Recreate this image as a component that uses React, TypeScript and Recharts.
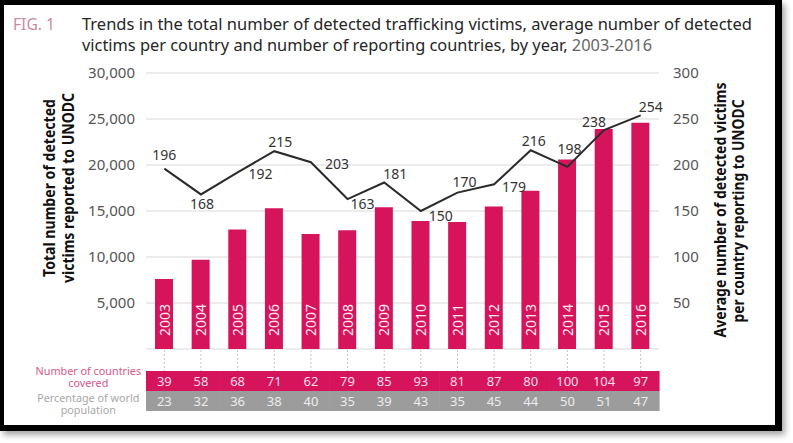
import React from 'react';
import { ComposedChart, Bar, Line, XAxis, YAxis, CartesianGrid, LabelList } from 'recharts';

const years = ['2003', '2004', '2005', '2006', '2007', '2008', '2009', '2010', '2011', '2012', '2013', '2014', '2015', '2016'];
const totalVictims = [7600, 9700, 13000, 15300, 12500, 12900, 15400, 13900, 13800, 15500, 17200, 20600, 23900, 24600];
const avgPerCountry = [196, 168, 192, 215, 203, 163, 181, 150, 170, 179, 216, 198, 238, 254];
const countriesCovered = [39, 58, 68, 71, 62, 79, 85, 93, 81, 87, 80, 100, 104, 97];
const worldPopShare = [23, 32, 36, 38, 40, 35, 39, 43, 35, 45, 44, 50, 51, 47];
const leftTicks = [5000, 10000, 15000, 20000, 25000, 30000];
const rightTicks = [50, 100, 150, 200, 250, 300];

const PINK = '#d5145c';
const GREY_ROW = '#9c9c9c';
const INK = '#333333';
const SANS = "'Noto Sans', sans-serif";

// where each line label sits relative to its point (dx, dy)
const labelNudge: Array<[number, number]> = [
  [0, -14], [1, 9], [23, 1], [6, -10], [26, 1], [15, 4], [11, -9],
  [20, 4], [7, -11], [20, 2], [3, -10], [2, -18], [-10, -9], [10, -9],
];

const data = years.map((year, i) => ({ year, victims: totalVictims[i], avg: avgPerCountry[i] }));

const fmt = (v: number) => v.toLocaleString('en-US');

const YearInBar = (props: any) => {
  const { x, y, width, height, value } = props;
  const cx = x + width / 2;
  const by = y + height - 13;
  return (
    <text x={cx} y={by} transform={`rotate(-90 ${cx} ${by})`} textAnchor="start" dominantBaseline="central"
      fill="#fbe6ee" fontSize={14} fontFamily={SANS}>
      {value}
    </text>
  );
};

const AvgLabel = (props: any) => {
  const { x, y, value, index } = props;
  const [dx, dy] = labelNudge[index] || [0, -10];
  return (
    <text x={x + dx} y={y + dy} textAnchor="middle" dominantBaseline="central" fill={INK} fontSize={14} fontFamily={SANS}>
      {value}
    </text>
  );
};

const TableTick = (props: any) => {
  const { x, y, payload, width, visibleTicksCount } = props;
  const i = payload.index;
  const cell = width / visibleTicksCount;
  const lx = x - 76;
  return (
    <g>
      <line x1={x} x2={x} y1={y + 1} y2={y + 22} stroke="#c4c4c4" strokeDasharray="2 2" />
      <rect x={x - cell / 2} y={y + 22} width={cell + 0.6} height={20} fill={PINK} />
      <rect x={x - cell / 2} y={y + 42} width={cell + 0.6} height={20} fill={GREY_ROW} />
      <text x={x} y={y + 32} textAnchor="middle" dominantBaseline="central" fill="#f9dde7" fontSize={13} fontFamily={SANS}>
        {countriesCovered[i]}
      </text>
      <text x={x} y={y + 52} textAnchor="middle" dominantBaseline="central" fill="#ececec" fontSize={13} fontFamily={SANS}>
        {worldPopShare[i]}
      </text>
      {i === 0 && (
        <g fontFamily={SANS} fontSize={11.5} textAnchor="middle"
          transform={`translate(${lx} 0) scale(0.94 1) translate(${-lx} 0)`}>
          <text x={lx} y={y + 26} fill="#d9568a">
            <tspan x={lx}>Number of countries</tspan>
            <tspan x={lx} dy={12}>covered</tspan>
          </text>
          <text x={lx} y={y + 53} fill="#a8a8a8">
            <tspan x={lx}>Percentage of world</tspan>
            <tspan x={lx} dy={12}>population</tspan>
          </text>
        </g>
      )}
    </g>
  );
};

const RotatedLine = ({ cx, cy, len, children }: any) => (
  <text transform={`rotate(-90 ${cx} ${cy})`} x={cx} y={cy} textAnchor="middle" dominantBaseline="central"
    fill="#111" fontSize={16} fontWeight="bold" fontFamily={SANS} textLength={len} lengthAdjust="spacingAndGlyphs">
    {children}
  </text>
);

const LeftTitle = (props: any) => {
  const { viewBox } = props;
  const cy = viewBox.y + viewBox.height / 2 - 23;
  return (
    <g>
      <RotatedLine cx={viewBox.x + 49} cy={cy} len={178}>Total number of detected</RotatedLine>
      <RotatedLine cx={viewBox.x + 68} cy={cy} len={190}>victims reported to UNODC</RotatedLine>
    </g>
  );
};

const RightTitle = (props: any) => {
  const { viewBox } = props;
  const cy = viewBox.y + viewBox.height / 2 - 1;
  return (
    <g>
      <RotatedLine cx={viewBox.x + 61} cy={cy} len={255}>Average number of detected victims</RotatedLine>
      <RotatedLine cx={viewBox.x + 79} cy={cy + 1} len={223}>per country reporting to UNODC</RotatedLine>
    </g>
  );
};

export default function App() {
  return (
    <div style={{ position: 'absolute', left: 0, top: 0, width: 793, height: 443, background: '#fff', overflow: 'hidden' }}>
      <ComposedChart width={793} height={443} data={data} margin={{ top: 73, right: 0, bottom: 0, left: 0 }}
        barSize={18}>
        <CartesianGrid yAxisId="left" vertical={false} stroke="#d9d9d9" />
        <XAxis dataKey="year" height={94} axisLine={false} tickLine={false} tickSize={0} tickMargin={0}
          interval={0} tick={<TableTick />} />
        <YAxis yAxisId="left" width={146} domain={[0, 30000]} ticks={leftTicks} tickFormatter={fmt}
          axisLine={false} tickLine={false} tickSize={0} tickMargin={11}
          tick={{ fill: '#555', fontSize: 15, fontFamily: SANS }} label={<LeftTitle />} />
        <YAxis yAxisId="right" orientation="right" width={134} domain={[0, 300]} ticks={rightTicks}
          axisLine={false} tickLine={false} tickSize={0} tickMargin={14}
          tick={{ fill: '#555', fontSize: 15, fontFamily: SANS }} label={<RightTitle />} />
        <Bar yAxisId="left" dataKey="victims" fill={PINK} isAnimationActive={false}>
          <LabelList dataKey="year" content={<YearInBar />} />
        </Bar>
        <Line yAxisId="right" dataKey="avg" stroke="#2b2b2b" strokeWidth={2} dot={false} type="linear"
          isAnimationActive={false}>
          <LabelList dataKey="avg" content={<AvgLabel />} />
        </Line>
      </ComposedChart>

      <svg width={793} height={70} style={{ position: 'absolute', left: 0, top: 0, pointerEvents: 'none' }}>
        <text x={13} y={30} fontFamily={SANS} fontSize={15.5} fill="#c98ba1" textLength={42} lengthAdjust="spacingAndGlyphs">
          FIG. 1
        </text>
        <text x={82} y={30} fontFamily={SANS} fontSize={15.5} fill="#262626" textLength={670} lengthAdjust="spacingAndGlyphs">
          Trends in the total number of detected trafficking victims, average number of detected
        </text>
        <text x={82} y={51} fontFamily={SANS} fontSize={15.5} fill="#262626" textLength={570} lengthAdjust="spacingAndGlyphs">
          victims per country and number of reporting countries, by year, <tspan fill="#666">2003-2016</tspan>
        </text>
      </svg>

      <div style={{
        position: 'absolute', left: 0, top: 0, width: 782, height: 431, boxSizing: 'border-box',
        borderStyle: 'solid', borderColor: '#000', borderWidth: '5px 7px 6px 4px',
        boxShadow: '3px 4px 6px rgba(0,0,0,0.35)', pointerEvents: 'none',
      }} />
    </div>
  );
}
